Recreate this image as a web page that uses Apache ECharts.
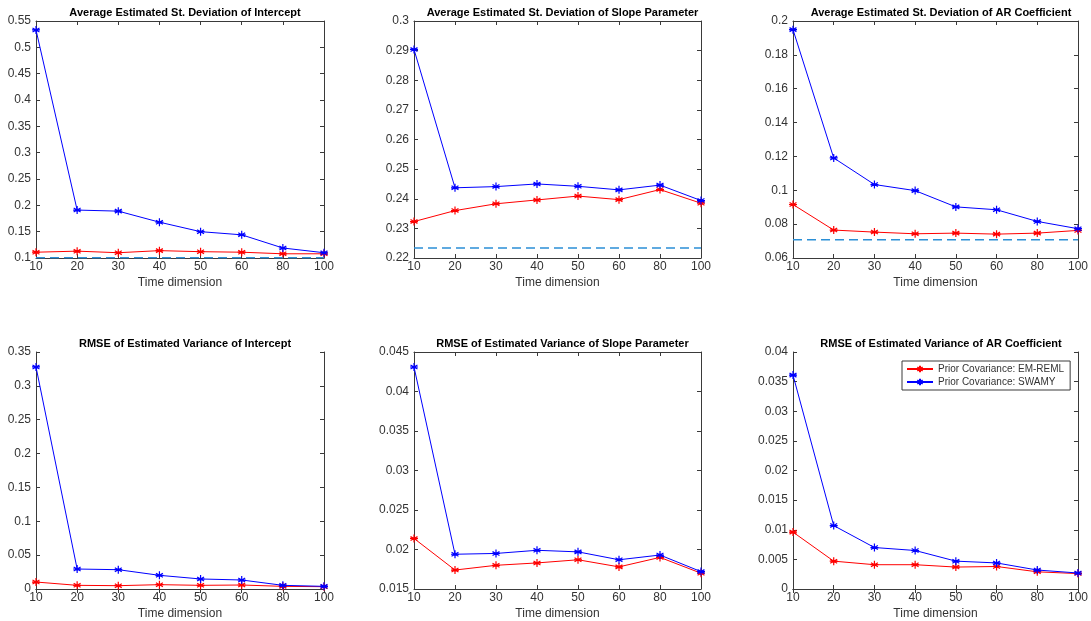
<!DOCTYPE html>
<html>
<head>
<meta charset="utf-8">
<script src="https://cdn.jsdelivr.net/npm/echarts@6/dist/echarts.min.js"></script>
<style>
  html, body { margin: 0; padding: 0; background: #fff; }
  #chart { width: 1091px; height: 621px; }
</style>
</head>
<body>
<div id="chart"></div>
<script>
const categories = ['10', '20', '30', '40', '50', '60', '80', '100']

// top row: average estimated st. deviation
const interceptSdEm = [0.111, 0.113, 0.110, 0.114, 0.112, 0.111, 0.108, 0.108]
const interceptSdSwamy = [0.533, 0.191, 0.189, 0.168, 0.150, 0.144, 0.119, 0.110]
const slopeSdEm = [0.2323, 0.2360, 0.2383, 0.2396, 0.2409, 0.2397, 0.2431, 0.2385]
const slopeSdSwamy = [0.2904, 0.2437, 0.2441, 0.2450, 0.2442, 0.2430, 0.2446, 0.2394]
const arSdEm = [0.0916, 0.0765, 0.0753, 0.0743, 0.0747, 0.0741, 0.0747, 0.0763]
const arSdSwamy = [0.1949, 0.1191, 0.1034, 0.0998, 0.0902, 0.0885, 0.0816, 0.0773]
// true st. deviation (dashed reference lines)
const trueSd = [0.1005, 0.2234, 0.0708]

// bottom row: RMSE of estimated variance
const interceptRmseEm = [0.0103, 0.0054, 0.0049, 0.0064, 0.0054, 0.0059, 0.0039, 0.0034]
const interceptRmseSwamy = [0.3279, 0.0295, 0.0285, 0.0202, 0.0148, 0.0133, 0.0054, 0.0039]
const slopeRmseEm = [0.0214, 0.0174, 0.0180, 0.0183, 0.0187, 0.0178, 0.0190, 0.0170]
const slopeRmseSwamy = [0.0431, 0.0194, 0.0195, 0.0199, 0.0197, 0.0187, 0.0193, 0.0172]
const arRmseEm = [0.0096, 0.0047, 0.0041, 0.0041, 0.0037, 0.0038, 0.0029, 0.0026]
const arRmseSwamy = [0.0361, 0.0107, 0.0070, 0.0065, 0.0047, 0.0044, 0.0032, 0.0027]

const panelTitles = [
  'Average Estimated St. Deviation of Intercept',
  'Average Estimated St. Deviation of Slope Parameter',
  'Average Estimated St. Deviation of AR Coefficient',
  'RMSE of Estimated Variance of Intercept',
  'RMSE of Estimated Variance of Slope Parameter',
  'RMSE of Estimated Variance of AR Coefficient',
]
const yMins = [0.1, 0.22, 0.06, 0, 0.015, 0]
const yMaxs = [0.55, 0.3, 0.2, 0.35, 0.045, 0.04]
const yIntervals = [0.05, 0.01, 0.02, 0.05, 0.005, 0.005]
const emSeries = [interceptSdEm, slopeSdEm, arSdEm, interceptRmseEm, slopeRmseEm, arRmseEm]
const swamySeries = [interceptSdSwamy, slopeSdSwamy, arSdSwamy, interceptRmseSwamy, slopeRmseSwamy, arRmseSwamy]

const FONT = 'Liberation Sans, Arial, sans-serif'
const AXIS = '#3a3a3a'
const TEXT = '#333333'
const STAR = 'path://M0,-5L0,5M-4.33,-2.5L4.33,2.5M-4.33,2.5L4.33,-2.5M-5,0L5,0'

const cols = [{ left: 36, width: 288 }, { left: 414, width: 287 }, { left: 793, width: 286 }]
const rows = [{ top: 21, height: 237 }, { top: 352, height: 237 }]

const grids = [], xAxes = [], yAxes = [], titles = [], series = []

function fmt(v) {
  return String(parseFloat(v.toFixed(4)))
}

for (let i = 0; i < 6; i++) {
  const c = cols[i % 3]
  const r = rows[Math.floor(i / 3)]
  grids.push({ left: c.left, top: r.top, width: c.width, height: r.height })
  titles.push({
    text: panelTitles[i],
    left: c.left + c.width / 2,
    top: r.top - 19,
    textAlign: 'center',
    textStyle: { fontFamily: FONT, fontSize: 11, fontWeight: 'bold', color: '#000' },
  })
  const tick = { show: true, inside: true, length: 4, lineStyle: { color: AXIS } }
  xAxes.push({
    gridIndex: i, type: 'category', data: categories, boundaryGap: false,
    axisLine: { show: true, lineStyle: { color: AXIS } },
    axisTick: { ...tick, alignWithLabel: true },
    axisLabel: { color: TEXT, fontFamily: FONT, fontSize: 12, margin: 3 },
    name: 'Time dimension', nameLocation: 'middle', nameGap: 19,
    nameTextStyle: { color: TEXT, fontFamily: FONT, fontSize: 12 },
    splitLine: { show: false },
  })
  xAxes.push({
    gridIndex: i, type: 'category', data: categories, boundaryGap: false, position: 'top',
    axisLine: { show: true, lineStyle: { color: AXIS } },
    axisTick: tick, axisLabel: { show: false }, splitLine: { show: false },
  })
  const yBase = { gridIndex: i, type: 'value', min: yMins[i], max: yMaxs[i], interval: yIntervals[i] }
  yAxes.push({
    ...yBase,
    axisLine: { show: true, lineStyle: { color: AXIS } },
    axisTick: tick,
    axisLabel: { color: TEXT, fontFamily: FONT, fontSize: 12, margin: 5, formatter: fmt },
    splitLine: { show: false },
  })
  yAxes.push({
    ...yBase, position: 'right',
    axisLine: { show: true, lineStyle: { color: AXIS } },
    axisTick: tick, axisLabel: { show: false }, splitLine: { show: false },
  })

  if (i < 3) {
    series.push({
      name: 'true', type: 'line',
      xAxisIndex: i * 2, yAxisIndex: i * 2,
      data: categories.map(() => trueSd[i]),
      showSymbol: false, silent: true,
      lineStyle: { color: '#2b8fd6', type: [9, 5], width: 1.5 },
      z: 5, animation: false,
    })
  }

  series.push({
    name: 'Prior Covariance: EM-REML', type: 'line',
    xAxisIndex: i * 2, yAxisIndex: i * 2, data: emSeries[i],
    symbol: STAR, symbolSize: 8,
    lineStyle: { color: '#ff0000', width: 1 },
    itemStyle: { color: '#ff0000', borderColor: '#ff0000', borderWidth: 1.2 },
    z: 3, animation: false,
  })
  series.push({
    name: 'Prior Covariance: SWAMY', type: 'line',
    xAxisIndex: i * 2, yAxisIndex: i * 2, data: swamySeries[i],
    symbol: STAR, symbolSize: 8,
    lineStyle: { color: '#0000ff', width: 1 },
    itemStyle: { color: '#0000ff', borderColor: '#0000ff', borderWidth: 1.2 },
    z: 4, animation: false,
  })
}

const chart = echarts.init(document.getElementById('chart'), null, { renderer: 'canvas' })
chart.setOption({
  backgroundColor: '#fff',
  animation: false,
  title: titles,
  grid: grids,
  xAxis: xAxes,
  yAxis: yAxes,
  legend: {
    data: ['Prior Covariance: EM-REML', 'Prior Covariance: SWAMY'],
    orient: 'vertical',
    left: 902, top: 361,
    padding: [3, 6, 3, 4],
    itemGap: 3, itemWidth: 26, itemHeight: 8,
    borderColor: AXIS, borderWidth: 1, backgroundColor: '#fff',
    textStyle: { fontFamily: FONT, fontSize: 10, color: TEXT },
  },
  series,
})
</script>
</body>
</html>
